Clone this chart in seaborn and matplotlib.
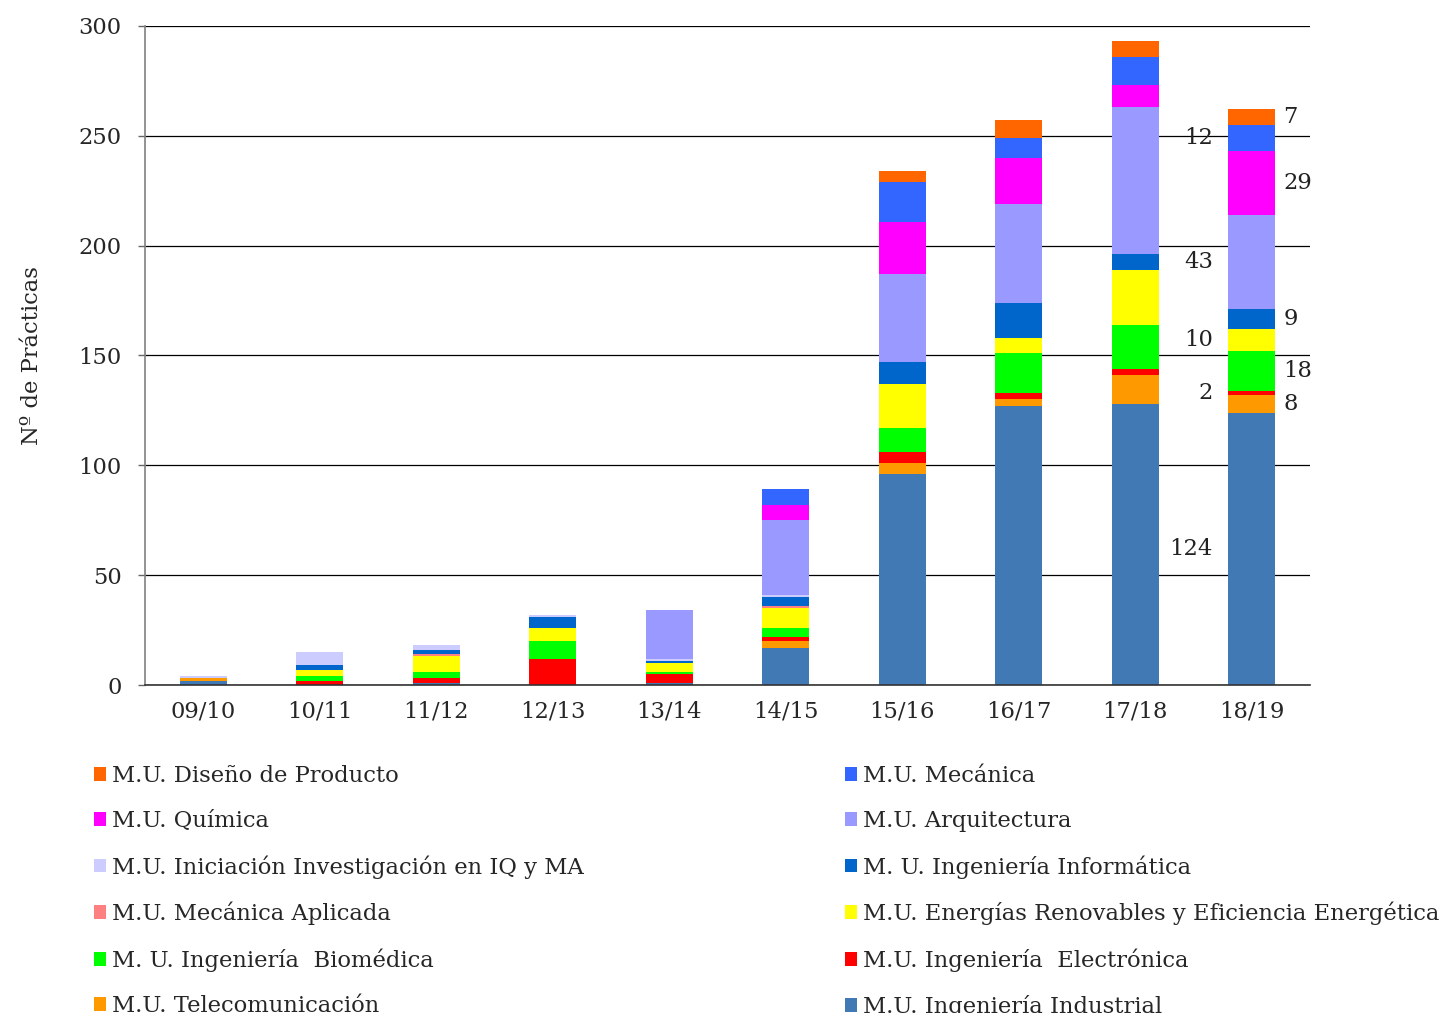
import numpy as np
import pandas as pd
import matplotlib
matplotlib.use("Agg")
import matplotlib.pyplot as plt
from matplotlib.patches import Patch
import seaborn as sns

years = ["09/10", "10/11", "11/12", "12/13", "13/14", "14/15", "15/16", "16/17", "17/18", "18/19"]

# series (bottom -> top of stack)
industrial   = [2, 0, 1, 0, 1, 17, 96, 127, 128, 124]
telecom      = [1, 0, 0, 0, 0, 3, 5, 3, 13, 8]
electronica  = [0, 2, 2, 12, 4, 2, 5, 3, 3, 2]
biomedica    = [0, 2, 3, 8, 1, 4, 11, 18, 20, 18]
energias     = [0, 3, 7, 6, 4, 9, 20, 7, 25, 10]
mec_aplicada = [0, 0, 1, 0, 0, 1, 0, 0, 0, 0]
informatica  = [0, 2, 2, 5, 1, 4, 10, 16, 7, 9]
iniciacion   = [1, 6, 2, 1, 1, 1, 0, 0, 0, 0]
arquitectura = [0, 0, 0, 0, 22, 34, 40, 45, 67, 43]
quimica      = [0, 0, 0, 0, 0, 7, 24, 21, 10, 29]
mecanica     = [0, 0, 0, 0, 0, 7, 18, 9, 13, 12]
diseno       = [0, 0, 0, 0, 0, 0, 5, 8, 7, 7]

series_names = [
    "M.U. Ingeniería Industrial",
    "M.U. Telecomunicación",
    "M.U. Ingeniería  Electrónica",
    "M. U. Ingeniería  Biomédica",
    "M.U. Energías Renovables y Eficiencia Energética",
    "M.U. Mecánica Aplicada",
    "M. U. Ingeniería Informática",
    "M.U. Iniciación Investigación en IQ y MA",
    "M.U. Arquitectura",
    "M.U. Química",
    "M.U. Mecánica",
    "M.U. Diseño de Producto",
]
series_values = [industrial, telecom, electronica, biomedica, energias, mec_aplicada,
                 informatica, iniciacion, arquitectura, quimica, mecanica, diseno]
series_colors = ["#4179B5", "#FF9900", "#FF0000", "#00FF00", "#FFFF00", "#FF8080",
                 "#0066CC", "#CCCCFF", "#9999FF", "#FF00FF", "#3366FF", "#FF6600"]

rows = []
for name, vals in zip(series_names, series_values):
    for yr, v in zip(years, vals):
        rows.append({"year": yr, "serie": name, "value": v})
df = pd.DataFrame(rows)
df["pos"] = df["year"].map({y: i for i, y in enumerate(years)})

sns.set_theme(style="white")
plt.rcParams["font.family"] = ["DejaVu Serif"]
FS = 16.3

fig = plt.figure(figsize=(14.43, 10.13), dpi=100)
ax = fig.add_axes([145 / 1443, 1 - 685 / 1013, (1310 - 145) / 1443, (685 - 26) / 1013])

palette = dict(zip(series_names, series_colors))
sns.histplot(data=df, x="pos", weights="value", hue="serie",
             hue_order=series_names[::-1], palette=palette,
             multiple="stack", discrete=True, shrink=0.4,
             linewidth=0, alpha=1, legend=False, ax=ax)

ax.set_xlim(-0.5, len(years) - 0.5)
ax.set_ylim(0, 300)
ax.set_yticks(np.arange(0, 301, 50))
ax.set_xticks(range(len(years)))
ax.set_xticklabels(years, fontsize=FS)
ax.set_xticks(np.arange(-0.5, len(years), 1.0), minor=True)
ax.tick_params(axis="x", which="major", length=0, pad=11)
ax.tick_params(axis="x", which="minor", length=6, width=1, color="#333333", direction="out")
ax.tick_params(axis="y", labelsize=FS, length=5, width=1, color="#666666", left=True, pad=12)
ax.set_xlabel("")
ax.set_ylabel("Nº de Prácticas", fontsize=FS, labelpad=25)
ax.yaxis.grid(True, color="#000000", linewidth=0.9)
ax.set_axisbelow(True)
for s in ["top", "right"]:
    ax.spines[s].set_visible(False)
ax.spines["left"].set_color("#808080")
ax.spines["bottom"].set_color("#333333")
ax.spines["left"].set_linewidth(1.2)
ax.spines["bottom"].set_linewidth(1.2)

# data labels for the last year
last = len(years) - 1
cum = 0
label_side = ["left", "right", "left", "right", "left", None, "right", None, "left", "right", "left", "right"]
for name, vals, side in zip(series_names, series_values, label_side):
    v = vals[last]
    mid = cum + v / 2
    cum += v
    if side is None or v == 0:
        continue
    if side == "left":
        ax.text(last - 0.335, mid, str(v), ha="right", va="center", fontsize=FS, color="#222222")
    else:
        ax.text(last + 0.27, mid, str(v), ha="left", va="center", fontsize=FS, color="#222222")

# legends (two columns, Excel-like row order)
order = series_names[::-1]
col1 = order[0::2]
col2 = order[1::2]
common = dict(loc="upper left", frameon=False, fontsize=FS, handlelength=0.55, handleheight=0.55,
              handletextpad=0.25, labelspacing=1.02, borderpad=0, borderaxespad=0)
h1 = [Patch(facecolor=palette[n], edgecolor="none") for n in col1]
h2 = [Patch(facecolor=palette[n], edgecolor="none") for n in col2]
fig.legend(h1, col1, bbox_to_anchor=(94 / 1443, 1 - 765 / 1013), **common)
fig.legend(h2, col2, bbox_to_anchor=(845 / 1443, 1 - 765 / 1013), **common)

fig.savefig("out.png", dpi=100)
